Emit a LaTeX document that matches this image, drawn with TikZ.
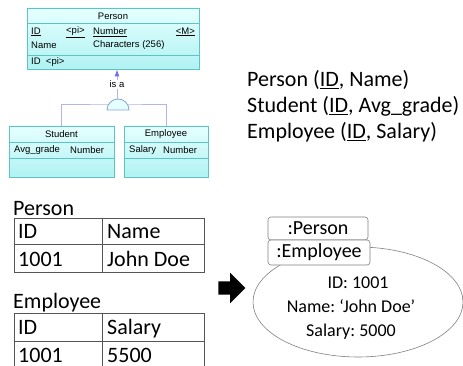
\documentclass[tikz,border=0pt]{standalone}
\usepackage{fontspec}
\setmainfont{Carlito}
\newfontfamily\pdfont{Liberation Sans}
\usetikzlibrary{arrows.meta, shapes.arrows}
\frenchspacing

\definecolor{entline}{HTML}{5CC4C4}
\definecolor{enttop}{HTML}{E6FFFF}
\definecolor{entbot}{HTML}{B0F2F2}
\definecolor{isaline}{HTML}{B4B4E6}
\definecolor{isatip}{HTML}{6E6EF0}
\definecolor{isacirc}{HTML}{7FA7D9}
\definecolor{gridline}{HTML}{555555}

\begin{document}
\begin{tikzpicture}[x = 1pt, y = -1pt, > = {Latex[length = 7pt, width = 5pt]},
	entity/.style = {draw = entline, line width = 0.8pt, top color = enttop, bottom color = entbot, inner sep = 0},
	pd/.style = {font = \pdfont\fontsize{9.5}{11}\selectfont, inner sep = 0, text = black},
	rel/.style = {font = \fontsize{22}{26}\selectfont, inner sep = 0, anchor = base west},
	val/.style = {font = \fontsize{22}{26}\selectfont, inner sep = 0, anchor = base west},
	cell/.style = {draw = gridline, line width = 0.9pt},
	objbox/.style = {draw = gray, fill = white, rounded corners = 3pt, line width = 0.6pt, inner sep = 0, font = \fontsize{20}{24}\selectfont},
	obj/.style = {font = \fontsize{18}{22}\selectfont, inner sep = 0, anchor = base}]

	% Frame
	
	\useasboundingbox (0, 0) rectangle (463, 366);
	
	% Conceptual model: entities
	
	\node [entity, minimum width = 172, minimum height = 61] (person) at (113, 38.5) {};
	\node [entity, minimum width = 105, minimum height = 51] (student) at (61.5, 151.5) {};
	\node [entity, minimum width = 84, minimum height = 51] (employee) at (166, 151.5) {};
	
	\draw [entline, line width = 0.8pt] (27, 23) -- (199, 23) (27, 55) -- (199, 55);
	\foreach \xa/\xb in {9/114, 124/208}
		\draw [entline, line width = 0.8pt] (\xa, 142) -- (\xb, 142) (\xa, 158) -- (\xb, 158);
	
	% Entity texts
	
	\node [pd] (hperson) at (113, 16) {Person};
	\node [pd, anchor = west] (pid) at (31, 32) {\underline{ID}};
	\node [pd, anchor = west] (ppi) at (66, 32) {\underline{<pi>}};
	\node [pd, anchor = west] (pnum) at (93, 32) {\underline{Number}};
	\node [pd, anchor = east] (pm) at (195, 32) {\underline{<M>}};
	\node [pd, anchor = west] (pname) at (31, 45) {Name};
	\node [pd, anchor = west] (pchar) at (93, 45) {Characters (256)};
	\node [pd, anchor = west] (pkey) at (31, 62) {ID\ \ <pi>};
	
	\node [pd] (hstudent) at (61.5, 134) {Student};
	\node [pd, anchor = west] (sgrade) at (14, 150) {Avg\_grade};
	\node [pd, anchor = west] (snum) at (70, 150) {Number};
	
	\node [pd] (hemployee) at (166, 134) {Employee};
	\node [pd, anchor = west] (esal) at (129, 150) {Salary};
	\node [pd, anchor = west] (enum) at (163, 150) {Number};
	
	% Inheritance
	
	\coordinate (fork) at (118, 104);
	\coordinate (isa) at (117, 99);
	
	\draw [isaline, line width = 0.9pt] (student.north) |- (fork) -| (employee.north);
	\filldraw [draw = isacirc, fill = enttop, line width = 0.8pt] (107, 110) arc (180 : 360 : 11) -- cycle;
	\draw [isaline, line width = 0.9pt, arrows = {-Latex[length = 7pt, width = 5pt, color = isatip]}]
		(isa) -- node [pd, fill = white, inner sep = 1pt] (isalabel) {is a} (isa |- person.south);
	
	% Relational schema
	
	\node [rel] (relperson) at (247, 87) {Person (\underline{ID}, Name)};
	\node [rel] (relstudent) at (247, 113) {Student (\underline{ID}, Avg\_grade)};
	\node [rel] (relemployee) at (247, 139) {Employee (\underline{ID}, Salary)};
	
	% Tables
	
	\node [val] (tperson) at (13, 215) {Person};
	\draw [cell] (14, 218) rectangle (204, 272) (14, 244) -- (204, 244) (102, 218) -- (102, 272);
	\foreach \txt/\x/\y [count = \i] in {ID/18/238, Name/107/238, 1001/18/266, John Doe/107/266}
		\node [val] (pcell\i) at (\x, \y) {\txt};
	
	\node [val] (temployee) at (13, 308) {Employee};
	\draw [cell] (14, 366) -- (14, 313) -- (204, 313) -- (204, 366) (14, 341) -- (204, 341) (102, 313) -- (102, 366);
	\foreach \txt/\x/\y [count = \i] in {ID/18/334, Salary/107/334, 1001/18/362, 5500/107/362}
		\node [val] (ecell\i) at (\x, \y) {\txt};
	
	% Mapping arrow
	
	\node [single arrow, fill = black, minimum height = 27, inner xsep = 0, inner ysep = 6.5, single arrow head extend = 8.5] (maparrow) at (228.5, 288) {};
	
	% Object instance
	
	\draw [gray, line width = 0.6pt] (358, 302) ellipse [x radius = 105, y radius = 55];
	
	\node [objbox, minimum width = 100, minimum height = 23] (objperson) at (318, 228.5) {:Person};
	\node [objbox, minimum width = 102, minimum height = 25] (objemployee) at (319, 252.5) {:Employee};
	
	\node [obj] (oid) at (358, 288) {ID: 1001};
	\node [obj] (oname) at (351, 312) {Name: `John Doe'};
	\node [obj] (osal) at (351, 336) {Salary: 5000};

\end{tikzpicture}
\end{document}
